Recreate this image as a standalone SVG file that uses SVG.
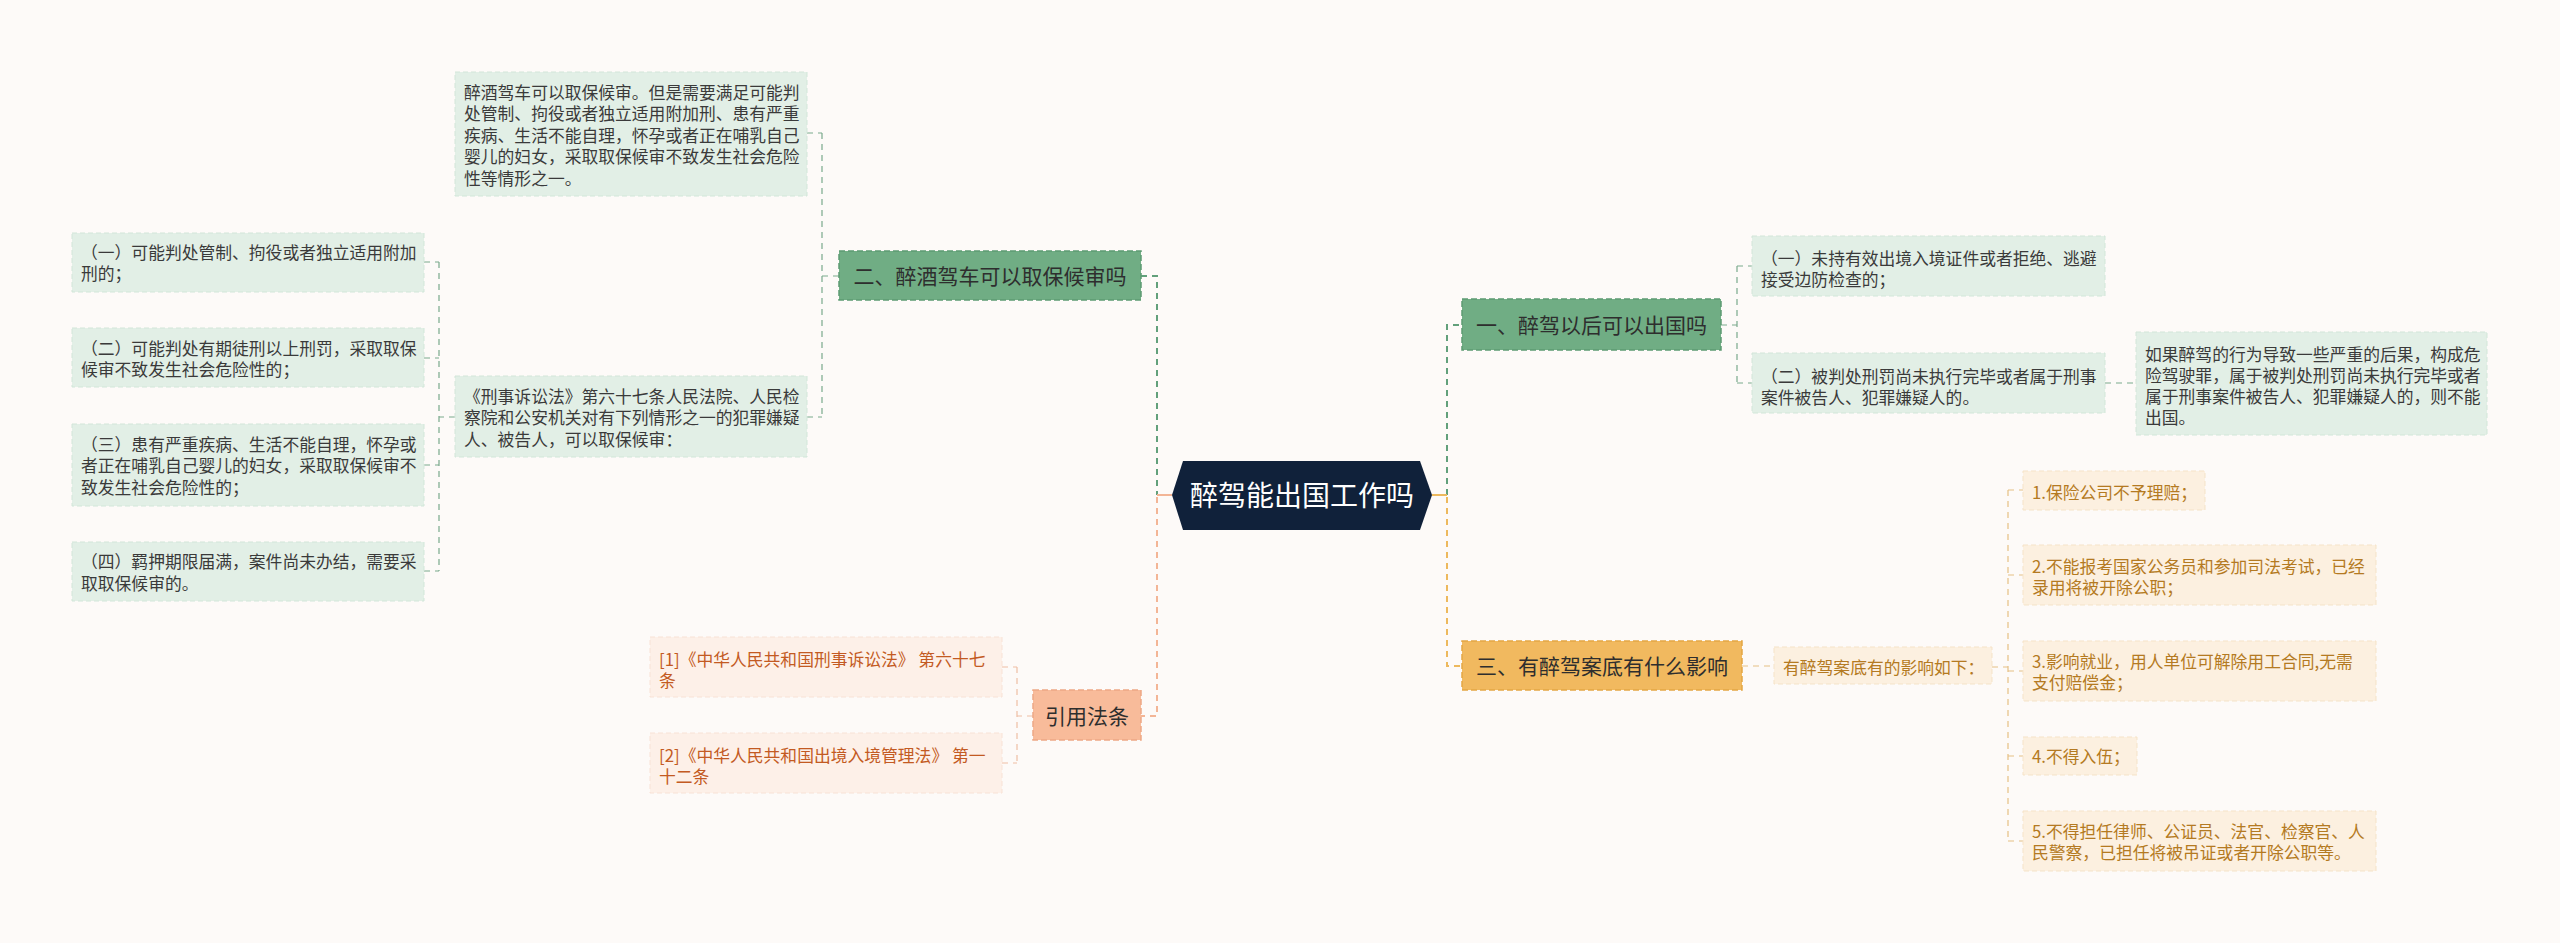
<svg xmlns="http://www.w3.org/2000/svg" width="2560" height="943" viewBox="0 0 2560 943">
<style>
text{font-family:"Noto Sans CJK SC","Noto Sans",sans-serif;}
.t{font-size:16.8px;fill:#3a3a3a;}
.to{font-size:16.8px;fill:#b47a22;}
.tr{font-size:16.8px;fill:#c35a22;}
.nt{font-size:21px;fill:#2e2e2e;}
.gb{fill:#e2efe6;stroke:#d2e6d9;stroke-width:1;stroke-dasharray:5 3;}
.ob{fill:#fcf0e0;stroke:#f5e3c8;stroke-width:1;stroke-dasharray:5 3;}
.rb{fill:#fdf0e8;stroke:#f8e2d6;stroke-width:1;stroke-dasharray:5 3;}
.gn{fill:#70ad84;stroke:#5c9a71;stroke-width:1.5;stroke-dasharray:6 3;}
.on{fill:#f1b95f;stroke:#e3a644;stroke-width:1.5;stroke-dasharray:6 3;}
.sn{fill:#f8bb9a;stroke:#eda885;stroke-width:1.5;stroke-dasharray:6 3;}
.cg{fill:none;stroke:#62a07b;stroke-width:2;stroke-dasharray:6 5;}
.co{fill:none;stroke:#edb95e;stroke-width:2;stroke-dasharray:6 5;}
.cs{fill:none;stroke:#f3b596;stroke-width:2;stroke-dasharray:6 5;}
.sg{fill:none;stroke:#7aa98c;stroke-width:1.2;stroke-dasharray:6 5;}
.so{fill:none;stroke:#e6c084;stroke-width:1.2;stroke-dasharray:6 5;}
.ss{fill:none;stroke:#efbea4;stroke-width:1.2;stroke-dasharray:6 5;}
</style>
<rect width="2560" height="943" fill="#fdfaf8"/>
<g id="connectors">
<path class="cg" d="M1141,276 H1157 V495"/>
<path class="cs" d="M1157,497 V716 H1141"/>
<path class="cg" d="M1447,495 V325 H1462"/>
<path class="co" d="M1447,497 V666 H1462"/>
<path d="M1432,495 H1447" stroke="#edb95e" stroke-width="2" fill="none"/>
<path d="M1157,495 H1172" stroke="#f3b596" stroke-width="2" fill="none"/>
<path class="sg" d="M839,276 H822 M822,133 V417 M807,133 H822 M807,417 H822"/>
<path class="sg" d="M455,417 H439 M439,262 V571 M424,262 H439 M424,358 H439 M424,465 H439 M424,571 H439"/>
<path class="sg" d="M1721,325 H1737 M1737,266 V383 M1737,266 H1752 M1737,383 H1752"/>
<path class="sg" d="M2105,383 H2136"/>
<path class="so" d="M1742,666 H1774 M1992,667 H2008 M2008,490 V841 M2008,490 H2023 M2008,575 H2023 M2008,671 H2023 M2008,756 H2023 M2008,841 H2023"/>
<path class="ss" d="M1033,716 H1017 M1017,667 V763 M1002,667 H1017 M1002,763 H1017"/>
</g>
<g id="center">
<polygon points="1172,495 1183,461 1420,461 1432,495 1420,530 1183,530" fill="#10213a"/>
<text x="1302" y="506" font-size="28" fill="#ffffff" text-anchor="middle">醉驾能出国工作吗</text>
</g>
<g id="n2">
<rect class="gn" x="839" y="251" width="302" height="49"/>
<text class="nt" x="990" y="284" text-anchor="middle">二、醉酒驾车可以取保候审吗</text>
</g>
<g id="n2a">
<rect class="gb" x="455" y="72" width="352" height="124"/>
<text class="t" x="464" y="98.5">醉酒驾车可以取保候审。但是需要满足可能判</text>
<text class="t" x="464" y="120">处管制、拘役或者独立适用附加刑、患有严重</text>
<text class="t" x="464" y="141.5">疾病、生活不能自理，怀孕或者正在哺乳自己</text>
<text class="t" x="464" y="163">婴儿的妇女，采取取保候审不致发生社会危险</text>
<text class="t" x="464" y="184.5">性等情形之一。</text>
</g>
<g id="n2b">
<rect class="gb" x="455" y="376" width="352" height="81"/>
<text class="t" x="464" y="403">《刑事诉讼法》第六十七条人民法院、人民检</text>
<text class="t" x="464" y="424">察院和公安机关对有下列情形之一的犯罪嫌疑</text>
<text class="t" x="464" y="445.5">人、被告人，可以取保候审：</text>
</g>
<g id="n2b1">
<rect class="gb" x="72" y="233" width="352" height="59"/>
<text class="t" x="81" y="259">（一）可能判处管制、拘役或者独立适用附加</text>
<text class="t" x="81" y="280">刑的；</text>
</g>
<g id="n2b2">
<rect class="gb" x="72" y="328" width="352" height="59"/>
<text class="t" x="81" y="354.5">（二）可能判处有期徒刑以上刑罚，采取取保</text>
<text class="t" x="81" y="375.5">候审不致发生社会危险性的；</text>
</g>
<g id="n2b3">
<rect class="gb" x="72" y="424" width="352" height="82"/>
<text class="t" x="81" y="450.5">（三）患有严重疾病、生活不能自理，怀孕或</text>
<text class="t" x="81" y="472">者正在哺乳自己婴儿的妇女，采取取保候审不</text>
<text class="t" x="81" y="493.5">致发生社会危险性的；</text>
</g>
<g id="n2b4">
<rect class="gb" x="72" y="542" width="352" height="59"/>
<text class="t" x="81" y="568">（四）羁押期限届满，案件尚未办结，需要采</text>
<text class="t" x="81" y="589.5">取取保候审的。</text>
</g>
<g id="nref">
<rect class="sn" x="1033" y="690" width="108" height="50"/>
<text class="nt" x="1087" y="724" text-anchor="middle">引用法条</text>
</g>
<g id="nref1">
<rect class="rb" x="650" y="637" width="352" height="60"/>
<text class="tr" x="659" y="665.5">[1]《中华人民共和国刑事诉讼法》 第六十七</text>
<text class="tr" x="659" y="686.5">条</text>
</g>
<g id="nref2">
<rect class="rb" x="650" y="733" width="352" height="60"/>
<text class="tr" x="659" y="761.5">[2]《中华人民共和国出境入境管理法》 第一</text>
<text class="tr" x="659" y="782.5">十二条</text>
</g>
<g id="n1">
<rect class="gn" x="1462" y="299" width="259" height="51"/>
<text class="nt" x="1591.5" y="333" text-anchor="middle">一、醉驾以后可以出国吗</text>
</g>
<g id="n1a">
<rect class="gb" x="1752" y="236" width="353" height="60"/>
<text class="t" x="1761" y="264.5">（一）未持有效出境入境证件或者拒绝、逃避</text>
<text class="t" x="1761" y="285.5">接受边防检查的；</text>
</g>
<g id="n1b">
<rect class="gb" x="1752" y="353" width="353" height="60"/>
<text class="t" x="1761" y="383">（二）被判处刑罚尚未执行完毕或者属于刑事</text>
<text class="t" x="1761" y="403.5">案件被告人、犯罪嫌疑人的。</text>
</g>
<g id="n1b1">
<rect class="gb" x="2136" y="332" width="351" height="103"/>
<text class="t" x="2145" y="360.5">如果醉驾的行为导致一些严重的后果，构成危</text>
<text class="t" x="2145" y="382">险驾驶罪，属于被判处刑罚尚未执行完毕或者</text>
<text class="t" x="2145" y="403">属于刑事案件被告人、犯罪嫌疑人的，则不能</text>
<text class="t" x="2145" y="424">出国。</text>
</g>
<g id="n3">
<rect class="on" x="1462" y="641" width="280" height="49"/>
<text class="nt" x="1602" y="674" text-anchor="middle">三、有醉驾案底有什么影响</text>
</g>
<g id="n3a">
<rect class="ob" x="1774" y="647" width="218" height="37"/>
<text class="to" x="1783" y="673.5">有醉驾案底有的影响如下：</text>
</g>
<g id="n3a1">
<rect class="ob" x="2023" y="471" width="182" height="39"/>
<text class="to" x="2032" y="498.5">1.保险公司不予理赔；</text>
</g>
<g id="n3a2">
<rect class="ob" x="2023" y="545" width="353" height="60"/>
<text class="to" x="2032" y="572.5">2.不能报考国家公务员和参加司法考试，已经</text>
<text class="to" x="2032" y="594">录用将被开除公职；</text>
</g>
<g id="n3a3">
<rect class="ob" x="2023" y="641" width="353" height="60"/>
<text class="to" x="2032" y="667.5">3.影响就业，用人单位可解除用工合同,无需</text>
<text class="to" x="2032" y="689">支付赔偿金；</text>
</g>
<g id="n3a4">
<rect class="ob" x="2023" y="737" width="114" height="38"/>
<text class="to" x="2032" y="762.5">4.不得入伍；</text>
</g>
<g id="n3a5">
<rect class="ob" x="2023" y="811" width="353" height="60"/>
<text class="to" x="2032" y="837.5">5.不得担任律师、公证员、法官、检察官、人</text>
<text class="to" x="2032" y="859">民警察，已担任将被吊证或者开除公职等。</text>
</g>
</svg>
